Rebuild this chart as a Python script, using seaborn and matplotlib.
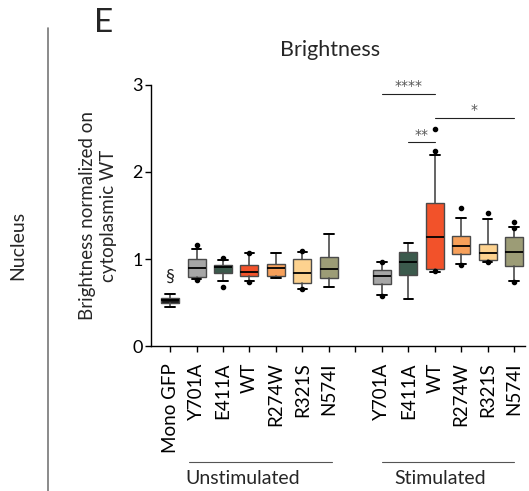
import matplotlib
matplotlib.use("Agg")
import matplotlib.pyplot as plt
import seaborn as sns

sns.set_theme(style="ticks")
plt.rcParams["font.family"] = ["Lato", "DejaVu Sans"]

# data
LABELS = ["Mono GFP", "Y701A", "E411A", "WT", "R274W", "R321S", "N574I",
          "", "Y701A", "E411A", "WT", "R274W", "R321S", "N574I"]
COLORS = ["#1a1a1a", "#a6a6a6", "#3b5a4c", "#f2522a", "#f7a05a", "#fdd28f", "#9c9c76",
          None, "#a6a6a6", "#3b5a4c", "#f2522a", "#f7a05a", "#fdd28f", "#9c9c76"]
Q1 = [0.49, 0.79, 0.84, 0.80, 0.80, 0.72, 0.78, None, 0.71, 0.82, 0.89, 1.06, 0.99, 0.92]
MED = [0.53, 0.90, 0.91, 0.85, 0.90, 0.84, 0.89, None, 0.80, 0.96, 1.25, 1.15, 1.07, 1.08]
Q3 = [0.55, 1.00, 0.93, 0.93, 0.94, 1.00, 1.02, None, 0.87, 1.08, 1.64, 1.26, 1.17, 1.25]
WLO = [0.45, 0.77, 0.75, 0.75, 0.78, 0.66, 0.68, None, 0.59, 0.54, 0.85, 0.94, 0.96, 0.75]
WHI = [0.60, 1.11, 0.99, 1.07, 1.07, 1.08, 1.29, None, 0.96, 1.18, 2.20, 1.47, 1.46, 1.37]
FLIERS = [[], [1.16, 0.76], [1.01, 0.68], [1.07, 0.74], [], [1.09, 0.65], [], None,
          [0.96, 0.58], [], [2.24, 2.49, 0.86], [1.59, 0.93], [1.53, 0.97], [1.36, 1.43, 0.74]]
# significance bars: (from, to, y, text)
SIG = [(8, 10, 2.90, "****"), (9, 10, 2.34, "**"), (10, 13, 2.62, "*")]
GROUPS = [("Unstimulated", 0.7, 6.1, 2.75), ("Stimulated", 8, 13, 10.2)]

fig = plt.figure(figsize=(5.29, 4.91), dpi=100)
ax = fig.add_axes([0.2854, 0.2953, 0.7066, 0.5316])

stats, pos, cols = [], [], []
for i in range(len(LABELS)):
    if MED[i] is None:
        continue
    stats.append(dict(q1=Q1[i], med=MED[i], q3=Q3[i], whislo=WLO[i], whishi=WHI[i],
                      fliers=FLIERS[i]))
    pos.append(i)
    cols.append(COLORS[i])

bp = ax.bxp(stats, positions=pos, widths=0.68, capwidths=0.36, patch_artist=True,
            showfliers=True,
            boxprops=dict(edgecolor="#4a4a4a", linewidth=1.0),
            medianprops=dict(color="black", linewidth=1.3),
            whiskerprops=dict(color="#4a4a4a", linewidth=1.2),
            capprops=dict(color="black", linewidth=1.4),
            flierprops=dict(marker="o", markerfacecolor="black", markeredgecolor="black",
                            markersize=3))
for patch, c in zip(bp["boxes"], cols):
    patch.set_facecolor(c)

ax.set_xlim(-0.72, 13.4)
ax.set_ylim(0, 3)
ax.set_xticks(range(len(LABELS)))
ax.set_xticklabels(LABELS, rotation=90, fontsize=13.5)
ax.set_yticks([0, 1, 2, 3])
ax.set_yticklabels(["0", "1", "2", "3"], fontsize=13)
ax.tick_params(axis="both", length=4, width=1, colors="black", pad=2)
ax.tick_params(axis="x", pad=8)
sns.despine(ax=ax)
for sp in ["left", "bottom"]:
    ax.spines[sp].set_color("black")
    ax.spines[sp].set_linewidth(1)

ax.set_ylabel("Brightness normalized on\ncytoplasmic WT", fontsize=13.5, labelpad=11,
              linespacing=1.25)
ax.set_title("Brightness", fontsize=15.5, pad=21, x=0.48)

ax.text(0, 0.79, "§", ha="center", va="center", fontsize=13, color="#222222")

for a, b, y, t in SIG:
    ax.plot([a, b], [y, y], color="#222222", linewidth=0.8, clip_on=False)
    ax.text((a + b) / 2, y + 0.01, t, ha="center", va="bottom", fontsize=10,
            family="DejaVu Sans", color="#555555", clip_on=False)

# group labels under the tick labels
trans = ax.get_xaxis_transform()
for name, a, b, c in GROUPS:
    ax.plot([a, b], [-0.445, -0.445], color="#555555", linewidth=0.8, transform=trans,
            clip_on=False)
    ax.text(c, -0.475, name, ha="center", va="top", fontsize=14, transform=trans)

fig.text(0.178, 0.953, "E", fontsize=24, ha="left", va="center")
fig.text(0.034, 0.50, "Nucleus", rotation=90, fontsize=14, ha="center", va="center")
fig.add_artist(plt.Line2D([0.091, 0.091], [0.0, 0.943], color="#777777", linewidth=1.2,
                          transform=fig.transFigure))

fig.savefig("out.png", dpi=100)
